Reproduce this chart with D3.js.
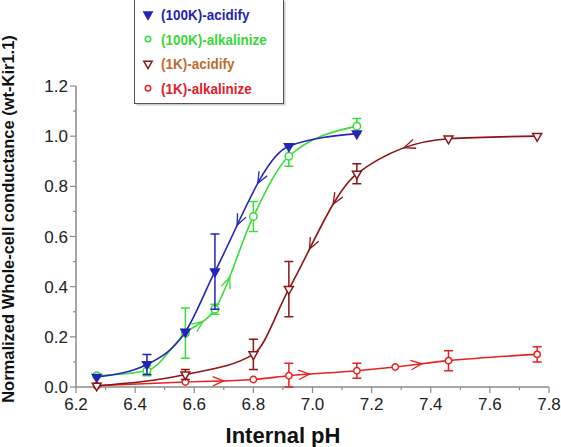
<!DOCTYPE html>
<html><head><meta charset="utf-8">
<script src="https://cdn.jsdelivr.net/npm/d3@7"></script>
<style>body{margin:0;background:#fff}svg{display:block}</style>
</head><body><svg id="c" width="561" height="447"></svg>
<script>
// ---- data ----
const xTicks = [6.2, 6.4, 6.6, 6.8, 7.0, 7.2, 7.4, 7.6, 7.8];
const yTicks = [0.0, 0.2, 0.4, 0.6, 0.8, 1.0, 1.2];
const seriesNames = ["(100K)-acidify", "(100K)-alkalinize", "(1K)-acidify", "(1K)-alkalinize"];

const acid100_pH  = [6.27, 6.44, 6.57, 6.67, 6.92, 7.15];
const acid100_G   = [0.04, 0.09, 0.22, 0.46, 0.96, 1.01];
const acid100_err = [0, 0.04, 0, 0.15, 0, 0];
const acid100_arrows = [6.745, 6.815];

const alk100_pH  = [6.27, 6.44, 6.57, 6.67, 6.80, 6.92, 7.15];
const alk100_G   = [0.045, 0.065, 0.215, 0.31, 0.68, 0.92, 1.04];
const alk100_err = [0, 0.02, 0.10, 0.02, 0.06, 0.04, 0.03];
const alk100_arrows = [6.63, 6.72];

const acid1_pH  = [6.27, 6.57, 6.80, 6.92, 7.15, 7.46, 7.76];
const acid1_G   = [0.005, 0.05, 0.13, 0.39, 0.85, 0.99, 1.0];
const acid1_err = [0, 0.02, 0.06, 0.11, 0.04, 0, 0];
const acid1_arrows = [6.99, 7.07, 7.31];

const alk1_pH  = [6.27, 6.57, 6.80, 6.92, 7.15, 7.28, 7.46, 7.76];
const alk1_G   = [0.005, 0.02, 0.03, 0.045, 0.065, 0.08, 0.105, 0.13];
const alk1_err = [0, 0, 0, 0.05, 0.03, 0, 0.04, 0.03];
const alk1_arrows = [6.70, 6.99, 7.37];

// ---- layout ----
const svg = d3.select("#c");
const x = d3.scaleLinear().domain([6.2, 7.8]).range([76, 549]);
const y = d3.scaleLinear().domain([0, 1.2]).range([387, 86]);
const axisCol = "#8a8a8a";
const font = "'Liberation Sans', Arial, Helvetica, sans-serif";

const xMinor = d3.range(62, 79).map(v => v / 10);
const yMinor = d3.range(0, 13).map(v => v / 10);

const gx = svg.append("g").attr("transform", `translate(0,${y(0)})`);
gx.append("line").attr("x1", x(6.2)).attr("x2", x(7.8)).attr("stroke", axisCol).attr("stroke-width", 1.5);
gx.selectAll("line.mn").data(xMinor).join("line").attr("class","mn")
  .attr("x1", d => x(d)).attr("x2", d => x(d)).attr("y1", 0)
  .attr("y2", (d,i) => i % 2 === 0 ? 6 : 3).attr("stroke", axisCol).attr("stroke-width", 1.2);
gx.selectAll("text").data(xTicks).join("text")
  .attr("x", d => x(d)).attr("y", 23).attr("text-anchor", "middle")
  .attr("font-family", font).attr("font-size", 17).attr("fill", "#222")
  .text(d => d3.format(".1f")(d));

const gy = svg.append("g").attr("transform", `translate(${x(6.2)},0)`);
gy.append("line").attr("y1", y(0)).attr("y2", y(1.2)).attr("stroke", axisCol).attr("stroke-width", 1.5);
gy.selectAll("line.mn").data(yMinor).join("line").attr("class","mn")
  .attr("y1", d => y(d)).attr("y2", d => y(d)).attr("x1", 0)
  .attr("x2", (d,i) => i % 2 === 0 ? -6 : -3).attr("stroke", axisCol).attr("stroke-width", 1.2);
gy.selectAll("text").data(yTicks).join("text")
  .attr("x", -8).attr("y", d => y(d)).attr("dy", "0.36em").attr("text-anchor", "end")
  .attr("font-family", font).attr("font-size", 17).attr("fill", "#222")
  .text(d => d3.format(".1f")(d));

svg.append("text").attr("x", 283).attr("y", 443).attr("text-anchor", "middle")
  .attr("font-family", font).attr("font-size", 22).attr("font-weight", "bold").attr("fill", "#111")
  .text("Internal pH");
svg.append("text").attr("transform", "translate(14,219) rotate(-90)").attr("text-anchor", "middle")
  .attr("font-family", font).attr("font-size", 16.5).attr("font-weight", "bold").attr("fill", "#111")
  .text("Normalized Whole-cell conductance (wt-Kir1.1)");

// ---- series ----
const series = [
  {pH: alk1_pH, G: alk1_G, err: alk1_err, arrows: alk1_arrows, dir: 1, color: "#e8231f", sym: "circle", fill: false, size: 32},
  {pH: acid1_pH, G: acid1_G, err: acid1_err, arrows: acid1_arrows, dir: -1, color: "#8e1414", sym: "tri", fill: false, size: 34},
  {pH: alk100_pH, G: alk100_G, err: alk100_err, arrows: alk100_arrows, dir: 1, color: "#3adc3a", sym: "circle", fill: false, size: 44},
  {pH: acid100_pH, G: acid100_G, err: acid100_err, arrows: acid100_arrows, dir: -1, color: "#2424b8", sym: "tri", fill: true, size: 34}
];

const line = d3.line().x(d => x(d[0])).y(d => y(d[1])).curve(d3.curveMonotoneX);

function symPath(s, size) {
  return d3.symbol().type(s.sym === "tri" ? d3.symbolTriangle : d3.symbolCircle).size(size)();
}

series.forEach(s => {
  const pts = s.pH.map((p, i) => [p, s.G[i], s.err[i]]);
  const g = svg.append("g");
  const path = g.append("path").attr("d", line(pts)).attr("fill", "none")
    .attr("stroke", s.color).attr("stroke-width", 1.6);
  const node = path.node();
  const L = node.getTotalLength();
  s.arrows.forEach(pa => {
    const tx = x(pa);
    let lo = 0, hi = L;
    for (let k = 0; k < 40; k++) {
      const mid = (lo + hi) / 2;
      if (node.getPointAtLength(mid).x < tx) lo = mid; else hi = mid;
    }
    const l = (lo + hi) / 2;
    const p = node.getPointAtLength(l);
    const a = node.getPointAtLength(Math.max(0, l - 2)), b = node.getPointAtLength(Math.min(L, l + 2));
    let ang = Math.atan2(b.y - a.y, b.x - a.x);
    if (s.dir < 0) ang += Math.PI;
    const len = 12, spread = 0.4;
    const p1 = [p.x - len * Math.cos(ang - spread), p.y - len * Math.sin(ang - spread)];
    const p2 = [p.x - len * Math.cos(ang + spread), p.y - len * Math.sin(ang + spread)];
    g.append("path").attr("d", `M${p1[0]},${p1[1]}L${p.x},${p.y}L${p2[0]},${p2[1]}`)
      .attr("fill", "none").attr("stroke", s.color).attr("stroke-width", 1.3);
  });
  const eb = pts.filter(d => d[2] > 0);
  const cw = 4.5;
  g.selectAll("path.eb").data(eb).join("path").attr("class", "eb")
    .attr("d", d => {
      const xx = x(d[0]), y1 = y(d[1] + d[2]), y2 = y(Math.max(0, d[1] - d[2]));
      return `M${xx},${y1}V${y2}M${xx - cw},${y1}H${xx + cw}M${xx - cw},${y2}H${xx + cw}`;
    })
    .attr("fill", "none").attr("stroke", s.color).attr("stroke-width", 1.5);
  g.selectAll("path.mk").data(pts).join("path").attr("class", "mk")
    .attr("d", symPath(s, s.size))
    .attr("transform", d => `translate(${x(d[0])},${y(d[1])})` + (s.sym === "tri" ? " rotate(180)" : ""))
    .attr("fill", s.fill ? s.color : "#fff").attr("stroke", s.color).attr("stroke-width", 1.5);
});

// ---- legend ----
const legendText = ["#1f1fb0", "#39d639", "#bb6a30", "#e0202a"];
const legendOrder = [3, 2, 1, 0];
const lg = svg.append("g");
lg.append("rect").attr("x", 136.5).attr("y", 1.5).attr("width", 149).attr("height", 104)
  .attr("fill", "#ccc");
lg.append("rect").attr("x", 134.5).attr("y", -0.5).attr("width", 149).attr("height", 104)
  .attr("fill", "#fff").attr("stroke", "#555").attr("stroke-width", 1);
seriesNames.forEach((name, i) => {
  const s = series[legendOrder[i]];
  const yy = 14.5 + i * 24.6;
  lg.append("path").attr("d", symPath(s, s.sym === "tri" ? 30 : 24))
    .attr("transform", `translate(148,${yy})` + (s.sym === "tri" ? " rotate(180)" : ""))
    .attr("fill", s.fill ? s.color : "#fff").attr("stroke", s.color).attr("stroke-width", 1.5);
  lg.append("text").attr("transform", `translate(161,${yy}) scale(0.9,1)`).attr("dy", "0.36em")
    .attr("font-family", font).attr("font-size", 15).attr("font-weight", "bold")
    .attr("fill", legendText[i]).text(name);
});
</script>
</body></html>
